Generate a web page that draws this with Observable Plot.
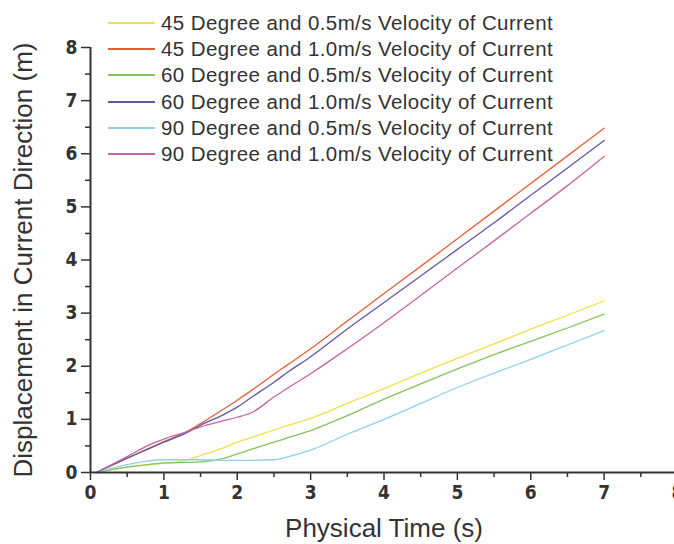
<!DOCTYPE html>
<html>
<head>
<meta charset="utf-8">
<script src="https://cdn.jsdelivr.net/npm/d3@7"></script>
<script src="https://cdn.jsdelivr.net/npm/@observablehq/plot@0.6"></script>
<style>
  html, body { margin: 0; padding: 0; background: #fff; }
  #wrap { position: relative; width: 674px; height: 544px; font-family: "Liberation Sans", Arial, sans-serif; }
  #legend { position: absolute; left: 108px; top: 10px; }
  .row { display: flex; align-items: center; height: 26.2px; }
  .sw { width: 47px; height: 2px; margin-right: 6px; }
  .lab { font-size: 20.5px; letter-spacing: 0.4px; color: #333; white-space: nowrap; }
  [aria-label="x-axis label"], [aria-label="y-axis label"] { font-size: 26px; }
  [aria-label="x-axis tick label"], [aria-label="y-axis tick label"] { font-family: "Liberation Sans Narrow", "Arial Narrow", "DejaVu Sans Condensed", sans-serif; font-size: 19px; font-weight: bold; fill: #333; }
</style>
</head>
<body>
<div id="wrap"><div id="legend"></div></div>
<script>
const seriesNames = [
  "45 Degree and 0.5m/s Velocity of Current",
  "45 Degree and 1.0m/s Velocity of Current",
  "60 Degree and 0.5m/s Velocity of Current",
  "60 Degree and 1.0m/s Velocity of Current",
  "90 Degree and 0.5m/s Velocity of Current",
  "90 Degree and 1.0m/s Velocity of Current"
];
const seriesColors = ["#ece34c", "#e4603a", "#88c15c", "#5a5aa8", "#90d0e6", "#c6649c"];

const times = [0.08, 0.5, 0.8, 1, 1.3, 1.5, 1.8, 2, 2.2, 2.5, 2.7, 3, 3.5, 4, 4.5, 5, 5.5, 6, 6.5, 7];

const deg45v05 = [0, 0.10, 0.15, 0.17, 0.23, 0.32, 0.46, 0.57, 0.66, 0.80, 0.89, 1.02, 1.30, 1.58, 1.87, 2.15, 2.42, 2.70, 2.96, 3.23];
const deg45v10 = [0, 0.27, 0.46, 0.58, 0.76, 0.92, 1.18, 1.36, 1.55, 1.85, 2.04, 2.33, 2.85, 3.37, 3.88, 4.40, 4.92, 5.44, 5.96, 6.48];
const deg60v05 = [0, 0.10, 0.15, 0.18, 0.19, 0.20, 0.26, 0.35, 0.44, 0.57, 0.66, 0.79, 1.07, 1.38, 1.67, 1.95, 2.22, 2.47, 2.72, 2.98];
const deg60v10 = [0, 0.27, 0.45, 0.57, 0.74, 0.89, 1.08, 1.23, 1.42, 1.70, 1.90, 2.18, 2.70, 3.20, 3.70, 4.20, 4.70, 5.22, 5.73, 6.25];
const deg90v05 = [0, 0.15, 0.22, 0.24, 0.24, 0.24, 0.23, 0.23, 0.23, 0.24, 0.30, 0.42, 0.72, 1.00, 1.30, 1.60, 1.87, 2.13, 2.40, 2.67];
const deg90v10 = [0, 0.30, 0.52, 0.63, 0.76, 0.86, 0.97, 1.04, 1.13, 1.42, 1.60, 1.86, 2.33, 2.82, 3.33, 3.85, 4.36, 4.88, 5.40, 5.95];

const xTicks = [0, 1, 2, 3, 4, 5, 6, 7, 8];
const xMinorTicks = [0.5, 1.5, 2.5, 3.5, 4.5, 5.5, 6.5, 7.5];
const yTicks = [0, 1, 2, 3, 4, 5, 6, 7, 8];
const yMinorTicks = [0.5, 1.5, 2.5, 3.5, 4.5, 5.5, 6.5, 7.5];

const xLabel = "Physical Time (s)";
const yLabel = "Displacement in Current Direction (m)";

const valueSets = [deg45v05, deg45v10, deg60v05, deg60v10, deg90v05, deg90v10];
const rows = seriesNames.flatMap((name, i) => times.map((t, j) => ({t, d: valueSets[i][j], name})));

const axisColor = "#333";
const chart = Plot.plot({
  width: 674,
  height: 544,
  marginTop: 47,
  marginBottom: 72,
  marginLeft: 90,
  marginRight: -3,
  style: {fontFamily: "'Liberation Sans', Arial, sans-serif", color: axisColor, background: "transparent", overflow: "visible"},
  x: {domain: [0, 8]},
  y: {domain: [0, 8]},
  color: {domain: seriesNames, range: seriesColors},
  marks: [
    Plot.axisX({ticks: xMinorTicks, tickSize: 5, text: null, label: null, stroke: axisColor, strokeWidth: 1.5}),
    Plot.axisX({ticks: xTicks, tickSize: 8, tickPadding: 5, fontSize: 19, stroke: axisColor, strokeWidth: 1.5,
      label: xLabel, labelAnchor: "center", labelArrow: "none", labelOffset: 64}),
    Plot.axisY({ticks: yMinorTicks, tickSize: 5, text: null, label: null, stroke: axisColor, strokeWidth: 1.5}),
    Plot.axisY({ticks: yTicks, tickSize: 9, tickPadding: 4, fontSize: 19, stroke: axisColor, strokeWidth: 1.5,
      label: yLabel, labelAnchor: "center", labelArrow: "none", labelOffset: 77}),
    Plot.line(rows, {x: "t", y: "d", z: "name", stroke: "name", strokeWidth: 1.3, curve: "monotone-x"}),
    Plot.ruleX([0], {stroke: axisColor, strokeWidth: 2}),
    Plot.ruleY([0], {stroke: axisColor, strokeWidth: 2})
  ]
});
const wrap = document.getElementById("wrap");
wrap.insertBefore(chart, wrap.firstChild);

const legend = document.getElementById("legend");
seriesNames.forEach((name, i) => {
  const row = document.createElement("div");
  row.className = "row";
  const sw = document.createElement("div");
  sw.className = "sw";
  sw.style.background = seriesColors[i];
  const lab = document.createElement("div");
  lab.className = "lab";
  lab.textContent = name;
  row.appendChild(sw);
  row.appendChild(lab);
  legend.appendChild(row);
});
</script>
</body>
</html>
